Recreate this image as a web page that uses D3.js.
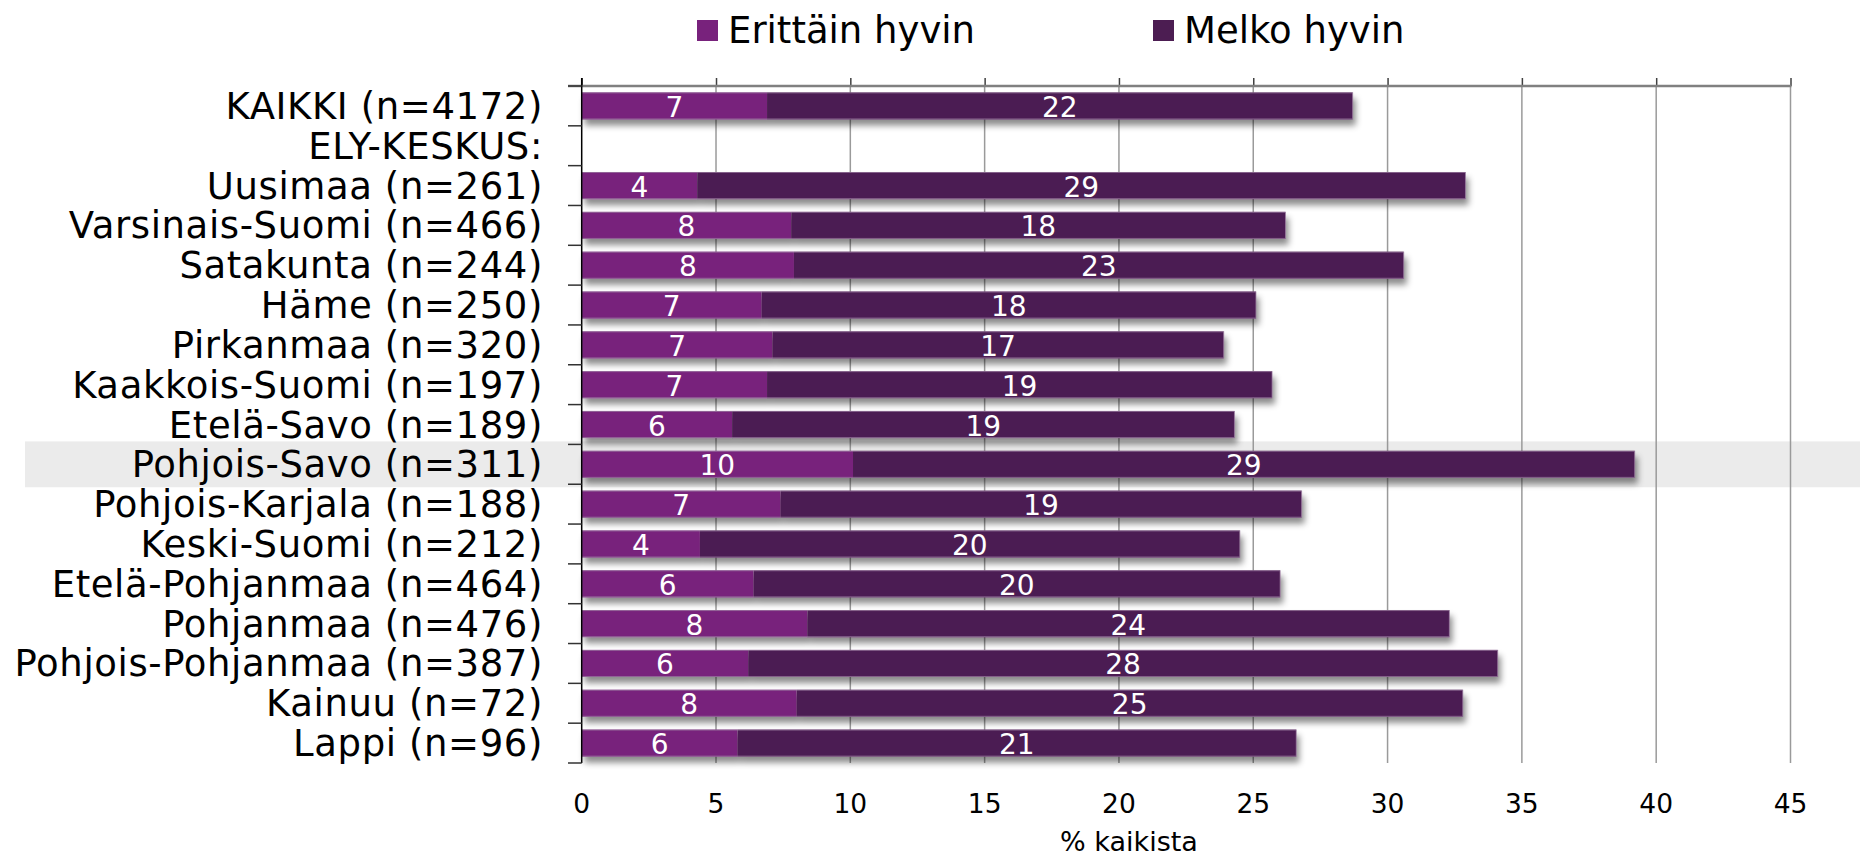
<!DOCTYPE html>
<html>
<head>
<meta charset="utf-8">
<script src="https://cdn.jsdelivr.net/npm/d3@7/dist/d3.min.js"></script>
<style>
  html, body { margin: 0; padding: 0; background: #ffffff; }
  svg { display: block; font-family: "DejaVu Sans", Verdana, sans-serif; }
</style>
</head>
<body>
<svg id="chart" width="1860" height="856"></svg>
<script>
const categories = [
  "KAIKKI (n=4172)", "ELY-KESKUS:", "Uusimaa (n=261)", "Varsinais-Suomi (n=466)",
  "Satakunta (n=244)", "Häme (n=250)", "Pirkanmaa (n=320)", "Kaakkois-Suomi (n=197)",
  "Etelä-Savo (n=189)", "Pohjois-Savo (n=311)", "Pohjois-Karjala (n=188)",
  "Keski-Suomi (n=212)", "Etelä-Pohjanmaa (n=464)", "Pohjanmaa (n=476)",
  "Pohjois-Pohjanmaa (n=387)", "Kainuu (n=72)", "Lappi (n=96)"
];
const seriesNames = ["Erittäin hyvin", "Melko hyvin"];
const erittainHyvin = [6.9, null, 4.3, 7.8, 7.9, 6.7, 7.1, 6.9, 5.6, 10.1, 7.4, 4.4, 6.4, 8.4, 6.2, 8.0, 5.8];
const melkoHyvin    = [21.8, null, 28.6, 18.4, 22.7, 18.4, 16.8, 18.8, 18.7, 29.1, 19.4, 20.1, 19.6, 23.9, 27.9, 24.8, 20.8];
const xTicks = [0, 5, 10, 15, 20, 25, 30, 35, 40, 45];
const xTitle = "% kaikista";
const highlighted = "Pohjois-Savo (n=311)";

const colors = ["#78227c", "#4c1d52"];

const svg = d3.select("#chart");
const mLeft = 581.7, mRight = 1790.5, mTop = 86, mBottom = 763;

const x = d3.scaleLinear().domain([0, 45]).range([mLeft, mRight]);
const y = d3.scaleBand().domain(categories).range([mTop, mBottom])
  .paddingInner(0.32).paddingOuter(0.16);
const step = y.step();

// defs: drop shadow
const defs = svg.append("defs");
const f = defs.append("filter").attr("id", "shadow")
  .attr("x", "-5%").attr("y", "-40%").attr("width", "115%").attr("height", "200%");
f.append("feDropShadow").attr("dx", 3).attr("dy", 6).attr("stdDeviation", 3)
  .attr("flood-color", "#000").attr("flood-opacity", 0.45);

// highlight band
svg.append("rect")
  .attr("x", 25).attr("width", 1860 - 25)
  .attr("y", y(highlighted) - (step - y.bandwidth()) / 2 - 3)
  .attr("height", step + 6)
  .attr("fill", "#ebebeb");

// gridlines
svg.append("g").selectAll("line").data(xTicks.filter(d => d > 0)).join("line")
  .attr("x1", d => x(d)).attr("x2", d => x(d))
  .attr("y1", mTop).attr("y2", mBottom)
  .attr("stroke", "#9a9a9a").attr("stroke-width", 1.5);

// top axis (ticks upward, no labels)
const topAxis = d3.axisTop(x).tickValues(xTicks).tickSize(8).tickFormat("");
const gTop = svg.append("g").attr("transform", `translate(0,${mTop})`).call(topAxis);
gTop.select(".domain").remove();
gTop.selectAll(".tick line").attr("stroke", "#404040").attr("stroke-width", 1.5);
svg.append("line").attr("x1", 568).attr("x2", mRight + 1).attr("y1", mTop).attr("y2", mTop)
  .attr("stroke", "#808080").attr("stroke-width", 2.5);

// bars
const rows = categories.map((c, i) => ({ cat: c, vals: [erittainHyvin[i], melkoHyvin[i]] }))
  .filter(r => r.vals[0] != null);

const rowG = svg.append("g").selectAll("g").data(rows).join("g")
  .attr("filter", "url(#shadow)");
rowG.each(function(r) {
  let acc = 0;
  const segs = r.vals.map((v, k) => { const s = { x0: acc, x1: acc + v, k, v }; acc += v; return s; });
  d3.select(this).selectAll("rect").data(segs).join("rect")
    .attr("x", s => x(s.x0)).attr("width", s => x(s.x1) - x(s.x0))
    .attr("y", y(r.cat)).attr("height", y.bandwidth())
    .attr("fill", s => colors[s.k]);
});

// bar edge highlights
svg.append("g").selectAll("rect").data(rows).join("rect")
  .attr("x", r => x(0)).attr("width", r => x(r.vals[0] + r.vals[1]) - x(0))
  .attr("y", r => y(r.cat) + 0.5).attr("height", y.bandwidth() - 1)
  .attr("fill", "none").attr("stroke", "#9c7fa3").attr("stroke-width", 1).attr("stroke-opacity", 0.7);

// value labels
const labelData = [];
rows.forEach(r => {
  let acc = 0;
  r.vals.forEach(v => { labelData.push({ cat: r.cat, cx: acc + v / 2, v }); acc += v; });
});
svg.append("g").selectAll("text").data(labelData).join("text")
  .attr("x", d => x(d.cx))
  .attr("y", d => y(d.cat) + y.bandwidth() / 2 + 11)
  .attr("text-anchor", "middle")
  .attr("fill", "#ffffff")
  .attr("font-size", 28)
  .text(d => d3.format(".0f")(d.v));

// left axis
svg.append("line").attr("x1", mLeft).attr("x2", mLeft).attr("y1", mTop - 8).attr("y2", mBottom)
  .attr("stroke", "#000").attr("stroke-width", 1.5);
const bounds = d3.range(categories.length + 1).map(i => mTop + i * step);
svg.append("g").selectAll("line").data(bounds).join("line")
  .attr("x1", 568).attr("x2", mLeft).attr("y1", d => d).attr("y2", d => d)
  .attr("stroke", "#333").attr("stroke-width", 1.5);

// category labels
svg.append("g").selectAll("text").data(categories).join("text")
  .attr("x", 543)
  .attr("y", d => y(d) + y.bandwidth() / 2 + 13)
  .attr("text-anchor", "end")
  .attr("fill", "#000")
  .attr("font-size", 37)
  .attr("letter-spacing", 0.6)
  .text(d => d);

// bottom tick labels
svg.append("g").selectAll("text").data(xTicks).join("text")
  .attr("x", d => x(d)).attr("y", 813)
  .attr("text-anchor", "middle").attr("font-size", 26.5).attr("fill", "#000")
  .text(d => d);

// x title
svg.append("text").attr("x", 1129).attr("y", 851)
  .attr("text-anchor", "middle").attr("font-size", 27).attr("fill", "#000")
  .text(xTitle);

// legend
const legendX = [697, 1153];
const lg = svg.append("g").selectAll("g").data(seriesNames).join("g")
  .attr("transform", (d, i) => `translate(${legendX[i]},20)`);
lg.append("rect").attr("width", 21).attr("height", 21).attr("fill", (d, i) => colors[i]);
lg.append("text").attr("x", 31).attr("y", 23).attr("font-size", 37).attr("fill", "#000")
  .text(d => d);
</script>
</body>
</html>
